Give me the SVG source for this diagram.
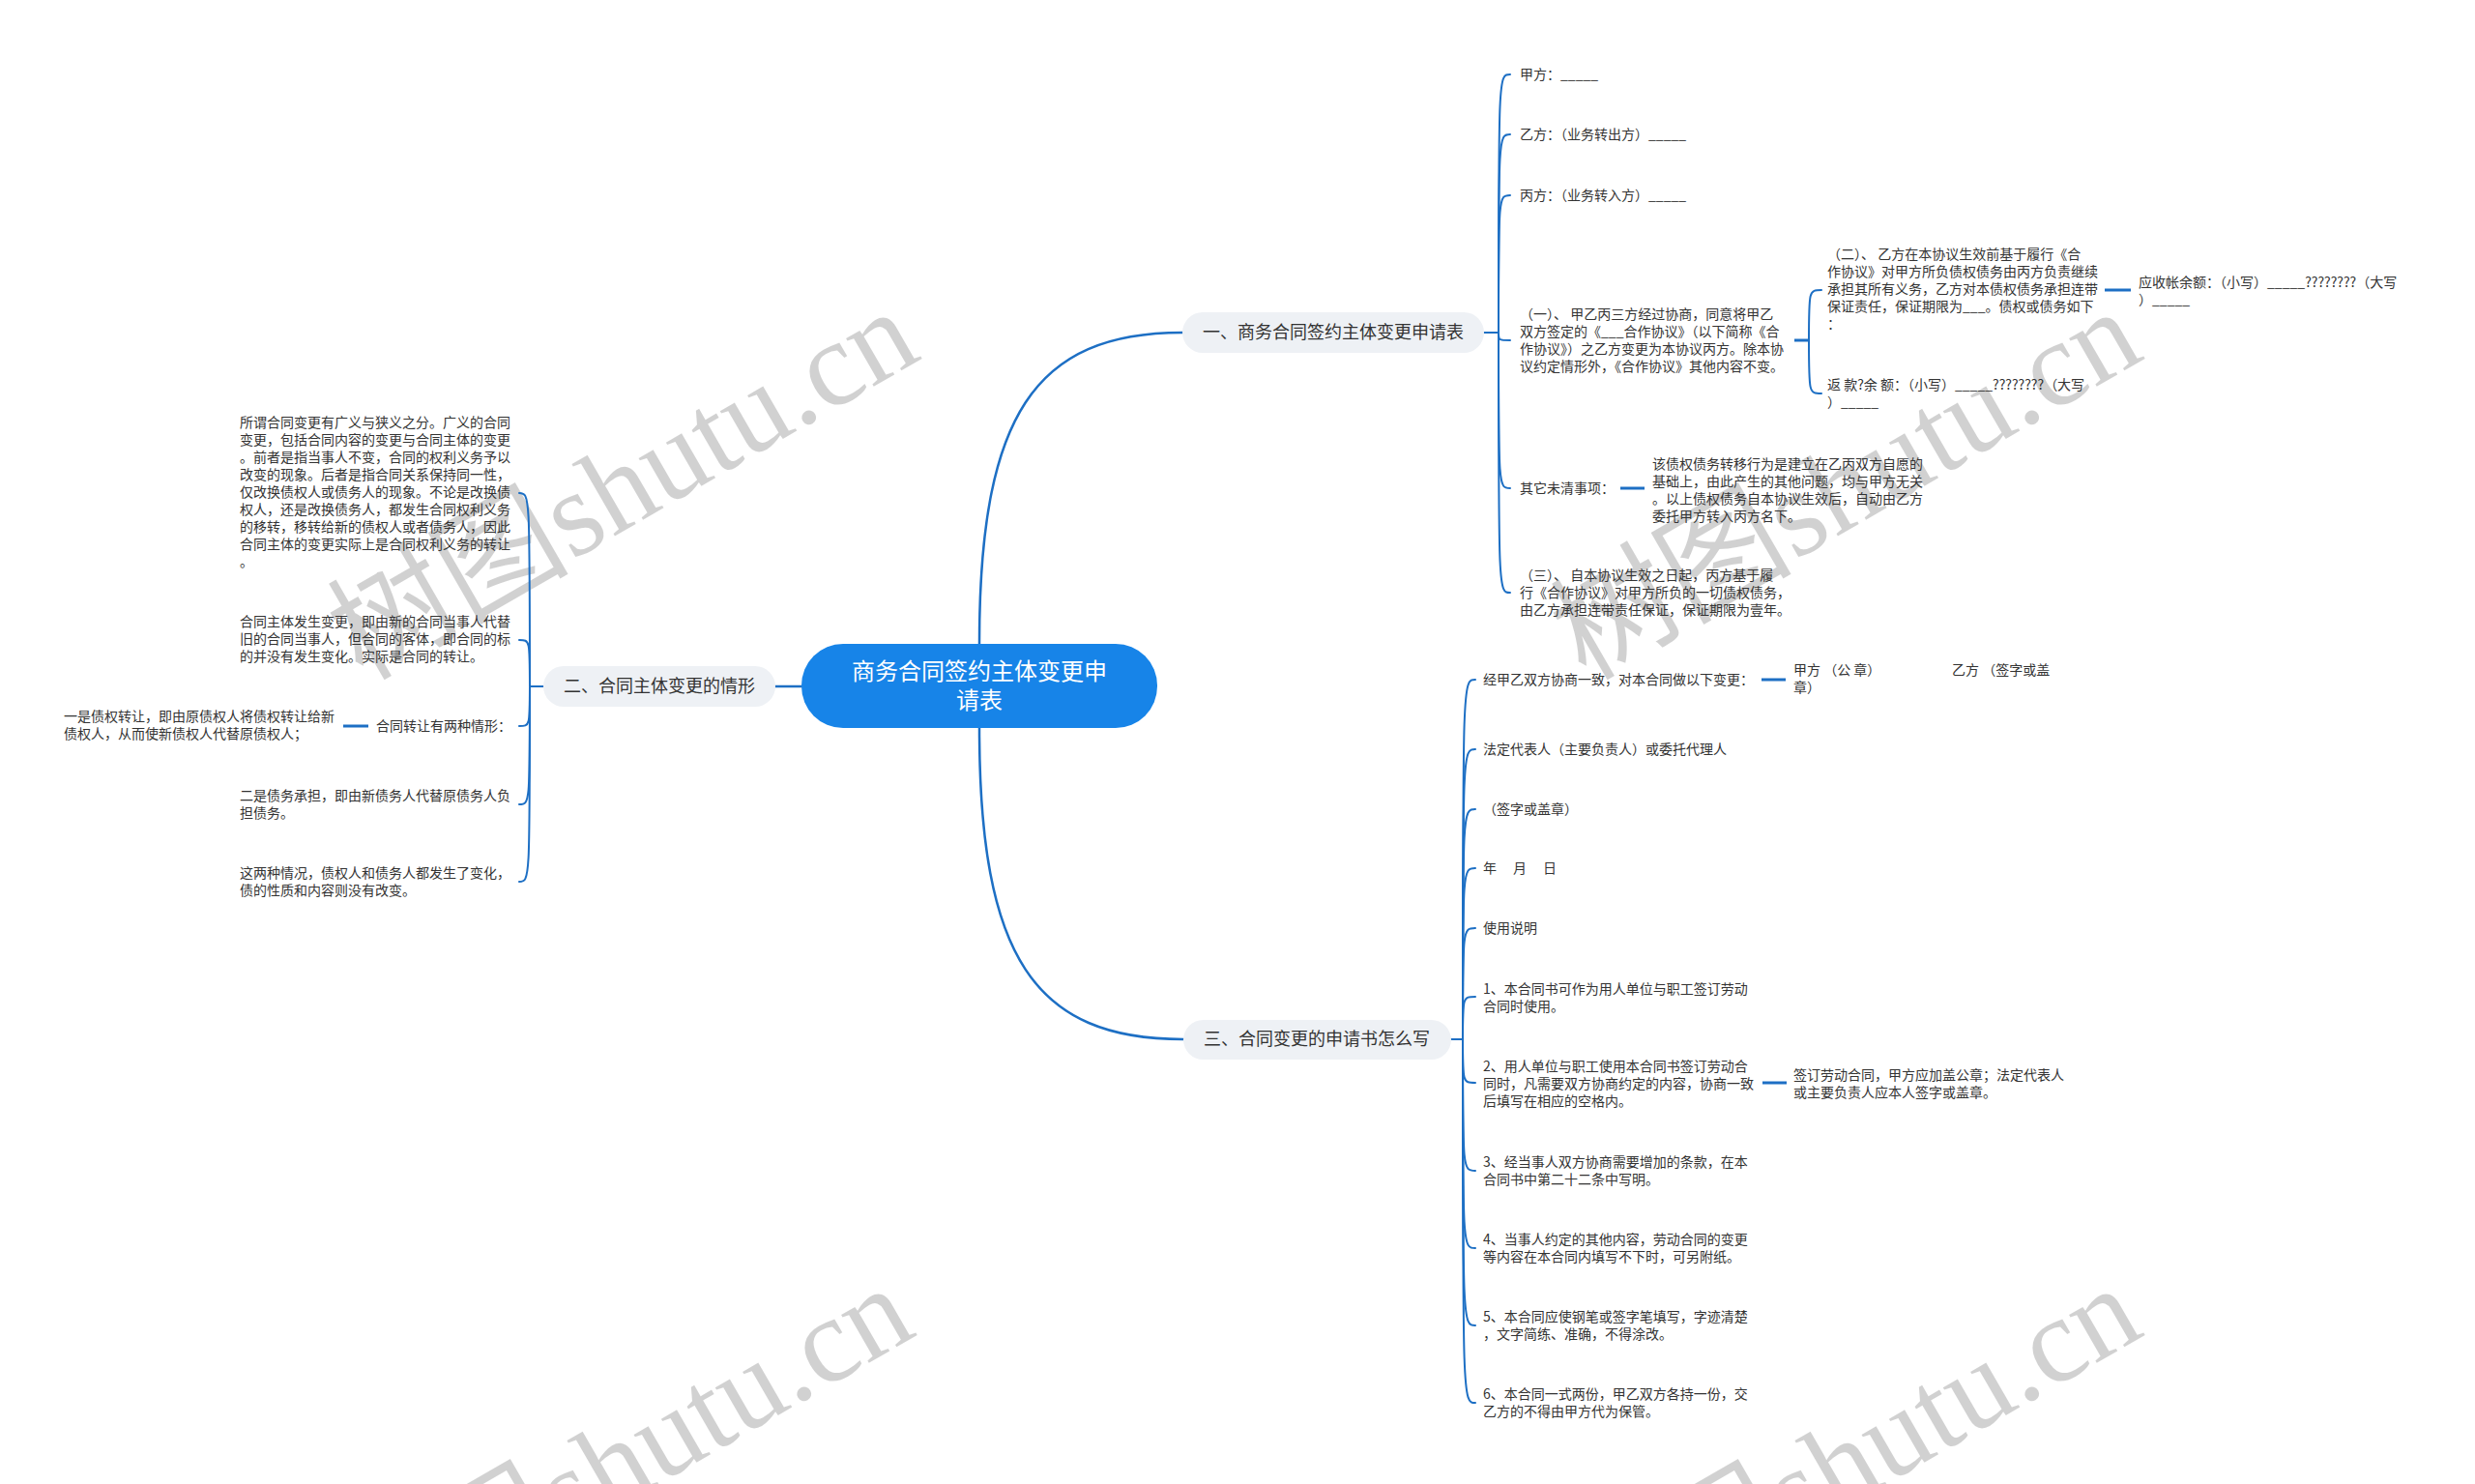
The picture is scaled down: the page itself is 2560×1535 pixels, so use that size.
<svg xmlns="http://www.w3.org/2000/svg" width="2560" height="1535" viewBox="0 0 2560 1535">
<defs>
<style>
.t{font-family:"Noto Sans CJK SC","Microsoft YaHei",sans-serif;font-size:14px;fill:#333333;}
.b{font-family:"Noto Sans CJK SC","Microsoft YaHei",sans-serif;font-size:18px;fill:#333333;text-anchor:middle;}
.c{font-family:"Noto Sans CJK SC","Microsoft YaHei",sans-serif;font-size:24px;fill:#ffffff;text-anchor:middle;}
.ln{fill:none;stroke:#1d6fc4;stroke-width:2;stroke-linecap:round;}
.mn{stroke-width:2.5;}
.st{stroke-width:3;stroke-linecap:butt;}
.bn{fill:#eef1f5;}
.wm{font-family:"Liberation Serif","Noto Sans CJK SC",serif;font-size:125px;fill:#000000;fill-opacity:0.18;}
</style>
</defs>
<rect width="2560" height="1535" fill="#ffffff"/>
<g id="watermark">
<text class="wm" x="375" y="705" transform="rotate(-30 375 705)">树图shutu.cn</text>
<text class="wm" x="1640" y="705" transform="rotate(-30 1640 705)">树图shutu.cn</text>
<text class="wm" x="370" y="1715" transform="rotate(-30 370 1715)">树图shutu.cn</text>
<text class="wm" x="1640" y="1715" transform="rotate(-30 1640 1715)">树图shutu.cn</text>
</g>
<g id="connectors">
<path class="ln mn" d="M1013,666 C1013,430 1070,344 1223,344"/>
<path class="ln mn" d="M1013,753 C1013,990 1070,1075 1224,1075"/>
<path class="ln mn" d="M829,710 H802"/>
<path class="ln" d="M1535,344 H1550"/>
<path class="ln" d="M1550,344 C1550,77 1550,77 1562,77"/>
<path class="ln" d="M1550,344 C1550,139 1550,139 1562,139"/>
<path class="ln" d="M1550,344 C1550,202 1550,202 1562,202"/>
<path class="ln" d="M1550,344 C1550,352 1550,352 1562,352"/>
<path class="ln" d="M1550,344 C1550,505 1550,505 1562,505"/>
<path class="ln" d="M1550,344 C1550,613 1550,613 1562,613"/>
<path class="ln st" d="M1856,352 H1871"/>
<path class="ln" d="M1871,352 C1871,300 1871,300 1884,300"/>
<path class="ln" d="M1871,352 C1871,407 1871,407 1884,407"/>
<path class="ln st" d="M2177,300 H2204"/>
<path class="ln st" d="M1676,505 H1701"/>
<path class="ln" d="M562,710 H548"/>
<path class="ln" d="M548,710 C548,510 548,510 537,510"/>
<path class="ln" d="M548,710 C548,662 548,662 537,662"/>
<path class="ln" d="M548,710 C548,751 548,751 537,751"/>
<path class="ln" d="M548,710 C548,832 548,832 537,832"/>
<path class="ln" d="M548,710 C548,912 548,912 537,912"/>
<path class="ln st" d="M381,751 H355"/>
<path class="ln" d="M1501,1075 H1513"/>
<path class="ln" d="M1513,1075 C1513,703 1513,703 1526,703"/>
<path class="ln" d="M1513,1075 C1513,775 1513,775 1526,775"/>
<path class="ln" d="M1513,1075 C1513,837 1513,837 1526,837"/>
<path class="ln" d="M1513,1075 C1513,898 1513,898 1526,898"/>
<path class="ln" d="M1513,1075 C1513,960 1513,960 1526,960"/>
<path class="ln" d="M1513,1075 C1513,1031 1513,1031 1526,1031"/>
<path class="ln" d="M1513,1075 C1513,1120 1513,1120 1526,1120"/>
<path class="ln" d="M1513,1075 C1513,1211 1513,1211 1526,1211"/>
<path class="ln" d="M1513,1075 C1513,1291 1513,1291 1526,1291"/>
<path class="ln" d="M1513,1075 C1513,1371 1513,1371 1526,1371"/>
<path class="ln" d="M1513,1075 C1513,1451 1513,1451 1526,1451"/>
<path class="ln st" d="M1822,703 H1847"/>
<path class="ln st" d="M1823,1120 H1848"/>
</g>
<g id="root">
<rect x="829" y="666" width="368" height="87" rx="43" fill="#1784e8"/>
<text class="c" x="1013" y="703">商务合同签约主体变更申</text>
<text class="c" x="1013" y="733">请表</text>
</g>
<g id="branch1">
<rect class="bn" x="1223" y="323" width="312" height="42" rx="21"/>
<text class="b" x="1379" y="350">一、商务合同签约主体变更申请表</text>
</g>
<g id="branch2">
<rect class="bn" x="562" y="689" width="240" height="42" rx="21"/>
<text class="b" x="682" y="716">二、合同主体变更的情形</text>
</g>
<g id="branch3">
<rect class="bn" x="1224" y="1055" width="277" height="41" rx="20.5"/>
<text class="b" x="1362" y="1081">三、合同变更的申请书怎么写</text>
</g>
<g id="b1-jia"><text class="t" x="1572" y="82">甲方：_____</text></g>
<g id="b1-yi"><text class="t" x="1572" y="144">乙方：（业务转出方）_____</text></g>
<g id="b1-bing"><text class="t" x="1572" y="207">丙方：（业务转入方）_____</text></g>
<g id="b1-item1"><text class="t" x="1572" y="330">（一）、 甲乙丙三方经过协商，同意将甲乙<tspan x="1572" dy="18">双方签定的《___合作协议》（以下简称《合</tspan><tspan x="1572" dy="18">作协议》）之乙方变更为本协议丙方。除本协</tspan><tspan x="1572" dy="18">议约定情形外，《合作协议》其他内容不变。</tspan></text></g>
<g id="b1-item2"><text class="t" x="1890" y="268">（二）、 乙方在本协议生效前基于履行《合<tspan x="1890" dy="18">作协议》对甲方所负债权债务由丙方负责继续</tspan><tspan x="1890" dy="18">承担其所有义务，乙方对本债权债务承担连带</tspan><tspan x="1890" dy="18">保证责任，保证期限为___。债权或债务如下</tspan><tspan x="1890" dy="18">：</tspan></text></g>
<g id="b1-receivable"><text class="t" x="2212" y="297">应收帐余额：（小写）_____????????（大写<tspan x="2212" dy="18">）_____</tspan></text></g>
<g id="b1-repay"><text class="t" x="1890" y="403">返 款?余 额：（小写）_____????????（大写<tspan x="1890" dy="18">）_____</tspan></text></g>
<g id="b1-other"><text class="t" x="1572" y="510">其它未清事项：</text></g>
<g id="b1-other-detail"><text class="t" x="1709" y="485">该债权债务转移行为是建立在乙丙双方自愿的<tspan x="1709" dy="18">基础上，由此产生的其他问题，均与甲方无关</tspan><tspan x="1709" dy="18">。以上债权债务自本协议生效后，自动由乙方</tspan><tspan x="1709" dy="18">委托甲方转入丙方名下。</tspan></text></g>
<g id="b1-item3"><text class="t" x="1572" y="600">（三）、 自本协议生效之日起，丙方基于履<tspan x="1572" dy="18">行《合作协议》对甲方所负的一切债权债务，</tspan><tspan x="1572" dy="18">由乙方承担连带责任保证，保证期限为壹年。</tspan></text></g>
<g id="b2-def"><text class="t" x="248" y="442">所谓合同变更有广义与狭义之分。广义的合同<tspan x="248" dy="18">变更，包括合同内容的变更与合同主体的变更</tspan><tspan x="248" dy="18">。前者是指当事人不变，合同的权利义务予以</tspan><tspan x="248" dy="18">改变的现象。后者是指合同关系保持同一性，</tspan><tspan x="248" dy="18">仅改换债权人或债务人的现象。不论是改换债</tspan><tspan x="248" dy="18">权人，还是改换债务人，都发生合同权利义务</tspan><tspan x="248" dy="18">的移转，移转给新的债权人或者债务人，因此</tspan><tspan x="248" dy="18">合同主体的变更实际上是合同权利义务的转让</tspan><tspan x="248" dy="18">。</tspan></text></g>
<g id="b2-subject"><text class="t" x="248" y="648">合同主体发生变更，即由新的合同当事人代替<tspan x="248" dy="18">旧的合同当事人，但合同的客体，即合同的标</tspan><tspan x="248" dy="18">的并没有发生变化。实际是合同的转让。</tspan></text></g>
<g id="b2-transfer"><text class="t" x="389" y="756">合同转让有两种情形：</text></g>
<g id="b2-creditor"><text class="t" x="66" y="746">一是债权转让，即由原债权人将债权转让给新<tspan x="66" dy="18">债权人，从而使新债权人代替原债权人；</tspan></text></g>
<g id="b2-debt"><text class="t" x="248" y="828">二是债务承担，即由新债务人代替原债务人负<tspan x="248" dy="18">担债务。</tspan></text></g>
<g id="b2-both"><text class="t" x="248" y="908">这两种情况，债权人和债务人都发生了变化，<tspan x="248" dy="18">债的性质和内容则没有改变。</tspan></text></g>
<g id="b3-change"><text class="t" x="1534" y="708">经甲乙双方协商一致，对本合同做以下变更：</text></g>
<g id="b3-seal"><text class="t" x="1855" y="698">甲方 （公 章）<tspan x="2019">乙方 （签字或盖</tspan><tspan x="1855" dy="18">章）</tspan></text></g>
<g id="b3-rep"><text class="t" x="1534" y="780">法定代表人（主要负责人）或委托代理人</text></g>
<g id="b3-sign"><text class="t" x="1534" y="842">（签字或盖章）</text></g>
<g id="b3-date"><text class="t" x="1534" y="903">年<tspan x="1565">月</tspan><tspan x="1596">日</tspan></text></g>
<g id="b3-usage"><text class="t" x="1534" y="965">使用说明</text></g>
<g id="b3-n1"><text class="t" x="1534" y="1028">1、本合同书可作为用人单位与职工签订劳动<tspan x="1534" dy="18">合同时使用。</tspan></text></g>
<g id="b3-n2"><text class="t" x="1534" y="1108">2、用人单位与职工使用本合同书签订劳动合<tspan x="1534" dy="18">同时，凡需要双方协商约定的内容，协商一致</tspan><tspan x="1534" dy="18">后填写在相应的空格内。</tspan></text></g>
<g id="b3-n2-detail"><text class="t" x="1855" y="1117">签订劳动合同，甲方应加盖公章；法定代表人<tspan x="1855" dy="18">或主要负责人应本人签字或盖章。</tspan></text></g>
<g id="b3-n3"><text class="t" x="1534" y="1207">3、经当事人双方协商需要增加的条款，在本<tspan x="1534" dy="18">合同书中第二十二条中写明。</tspan></text></g>
<g id="b3-n4"><text class="t" x="1534" y="1287">4、当事人约定的其他内容，劳动合同的变更<tspan x="1534" dy="18">等内容在本合同内填写不下时，可另附纸。</tspan></text></g>
<g id="b3-n5"><text class="t" x="1534" y="1367">5、本合同应使钢笔或签字笔填写，字迹清楚<tspan x="1534" dy="18">，文字简练、准确，不得涂改。</tspan></text></g>
<g id="b3-n6"><text class="t" x="1534" y="1447">6、本合同一式两份，甲乙双方各持一份，交<tspan x="1534" dy="18">乙方的不得由甲方代为保管。</tspan></text></g>
</svg>
